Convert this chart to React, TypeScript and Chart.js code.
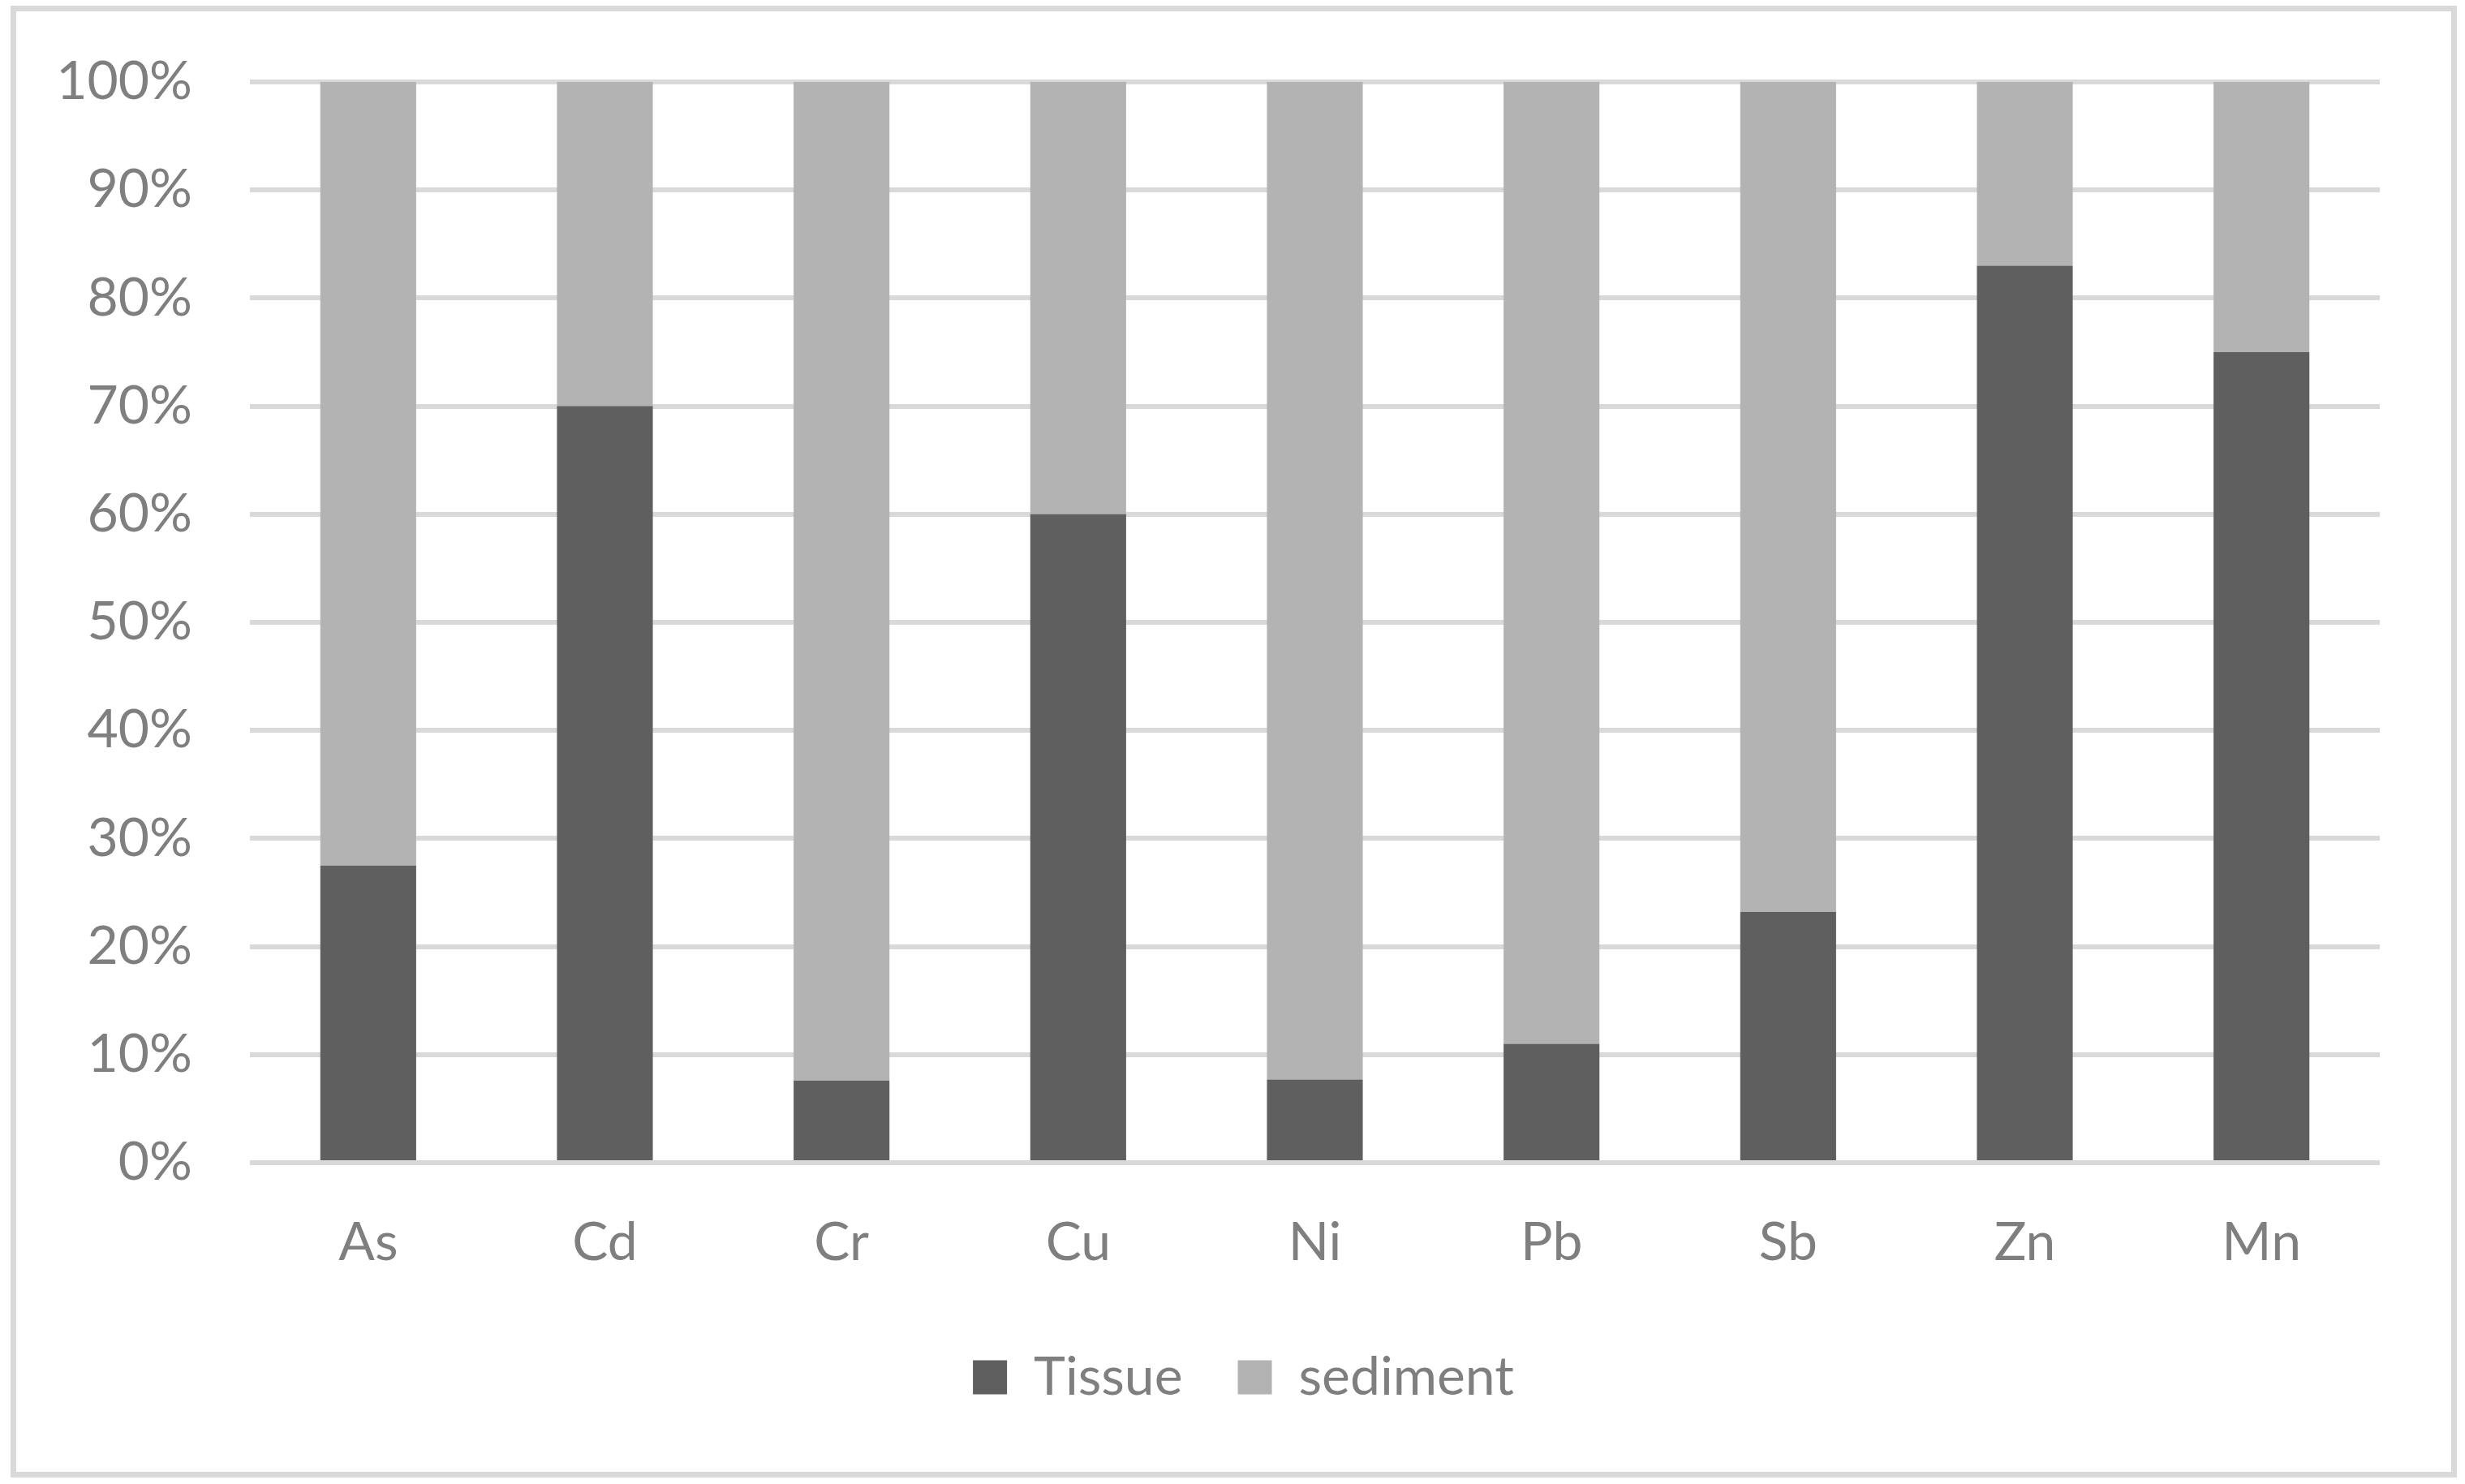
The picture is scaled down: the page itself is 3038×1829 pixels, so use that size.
import React, { useEffect, useRef } from 'react';
import { Chart, registerables } from 'chart.js';

Chart.register(...registerables);

const categories = ['As', 'Cd', 'Cr', 'Cu', 'Ni', 'Pb', 'Sb', 'Zn', 'Mn'];
const tissueValues = [27.5, 70, 7.6, 60, 7.7, 11, 23.2, 83, 75];
const sedimentValues = [72.5, 30, 92.4, 40, 92.3, 89, 76.8, 17, 25];
const seriesNames = ['Tissue', 'sediment'];
const seriesColors = ['#5f5f5f', '#b3b3b3'];
const yTickStep = 10;
const yMax = 100;

const TEXT = '#7f7f7f';
const FONT = 'Lato';

const legendShift = {
  id: 'legendShift',
  afterLayout(chart: any) {
    const lg = chart.legend;
    if (lg) {
      lg.left += 66;
      lg.right += 66;
    }
  },
};

export default function App() {
  const ref = useRef<HTMLCanvasElement>(null);

  useEffect(() => {
    const canvas = ref.current;
    if (!canvas) return;
    const chart = new Chart(canvas, {
      type: 'bar',
      data: {
        labels: categories,
        datasets: [
          {
            label: seriesNames[0],
            data: tissueValues,
            backgroundColor: seriesColors[0],
            borderWidth: 0,
            categoryPercentage: 1,
            barPercentage: 0.405,
          },
          {
            label: seriesNames[1],
            data: sedimentValues,
            backgroundColor: seriesColors[1],
            borderWidth: 0,
            categoryPercentage: 1,
            barPercentage: 0.405,
          },
        ],
      },
      plugins: [legendShift],
      options: {
        responsive: false,
        animation: false,
        devicePixelRatio: 1,
        layout: { padding: { left: 0, right: 105, top: 101, bottom: 88.5 } },
        plugins: {
          tooltip: { enabled: false },
          legend: {
            position: 'bottom',
            labels: {
              boxWidth: 42,
              boxHeight: 42,
              padding: 68,
              color: TEXT,
              font: { family: FONT, size: 66 },
            },
          },
        },
        scales: {
          x: {
            stacked: true,
            grid: { display: false, drawTicks: false },
            border: { display: false },
            ticks: { color: TEXT, font: { family: FONT, size: 66 }, padding: 59 },
            afterFit: (scale: any) => {
              scale.height = 163.5;
            },
          },
          y: {
            stacked: true,
            min: 0,
            max: yMax,
            grid: { color: '#d9d9d9', lineWidth: 6, drawTicks: false },
            border: { display: false },
            ticks: {
              stepSize: yTickStep,
              color: TEXT,
              font: { family: FONT, size: 66 },
              padding: 71,
              callback: (v: any) => v + '%',
            },
            afterFit: (scale: any) => {
              scale.width = 308;
              scale.paddingTop = 0;
              scale.paddingBottom = 0;
            },
          },
        },
      },
    });
    return () => chart.destroy();
  }, []);

  return (
    <>
      <div
        style={{
          position: 'fixed',
          left: 13,
          top: 7,
          width: 3015,
          height: 1814,
          border: '7px solid #d9d9d9',
          boxSizing: 'border-box',
          background: '#ffffff',
        }}
      />
      <canvas
        ref={ref}
        width={3038}
        height={1829}
        style={{ position: 'fixed', left: 0, top: 0, width: 3038, height: 1829 }}
      />
    </>
  );
}
